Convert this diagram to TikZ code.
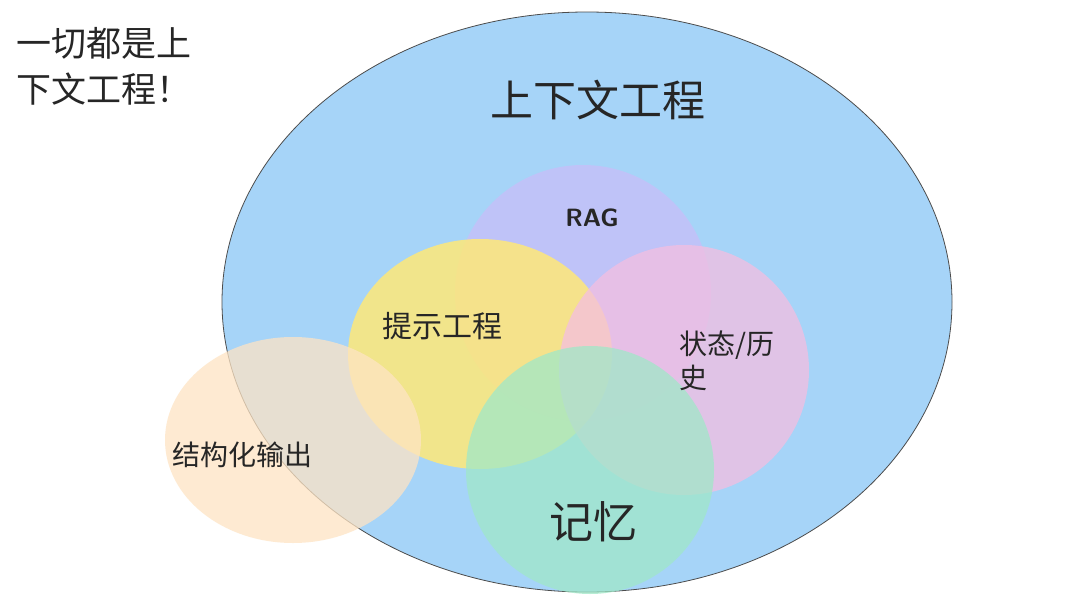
\documentclass[tikz,border=0pt]{standalone}
\usepackage{fontspec}
\setmainfont{Noto Sans CJK SC}
\begin{document}
\begin{tikzpicture}[x=1pt,y=-1pt,
  blob/.style={fill opacity=0.75,draw=none},
  lab/.style={text=black!85,inner sep=0pt,align=left}]
\useasboundingbox (0,0) rectangle (1080,608);
\fill[white] (0,0) rectangle (1080,608);
\filldraw[fill={rgb,255:red,166;green,212;blue,248},draw=black!70,line width=0.8pt] (587,302) ellipse [x radius=365,y radius=290];
\fill[blob,fill={rgb,255:red,200;green,190;blue,248}] (583,293) circle [radius=128];
\fill[blob,fill={rgb,255:red,255;green,232;blue,120},fill opacity=0.85] (480,354) ellipse [x radius=132,y radius=115];
\fill[blob,fill={rgb,255:red,244;green,190;blue,225}] (684,370) circle [radius=125];
\fill[blob,fill={rgb,255:red,160;green,232;blue,200}] (590,470) circle [radius=124];
\fill[blob,fill={rgb,255:red,254;green,228;blue,196}] (293,440) ellipse [x radius=128,y radius=103];
\node[lab,anchor=west,font=\fontsize{35}{46}\selectfont] (t0) at (16,66) {一切都是上\\下文工程！};
\node[lab,font=\fontsize{43}{50}\selectfont] (t1) at (598,100) {上下文工程};
\node[lab,font=\fontsize{25}{28}\sffamily\bfseries] (t2) at (592,218) {RAG};
\node[lab,font=\fontsize{30}{34}\selectfont] (t3) at (442,326) {提示工程};
\node[lab,font=\fontsize{28}{34}\selectfont] (t4) at (727,361) {状态/历\\史};
\node[lab,font=\fontsize{28}{32}\selectfont] (t5) at (242,455) {结构化输出};
\node[lab,font=\fontsize{44}{50}\selectfont] (t6) at (593,522) {记忆};
\end{tikzpicture}
\end{document}
